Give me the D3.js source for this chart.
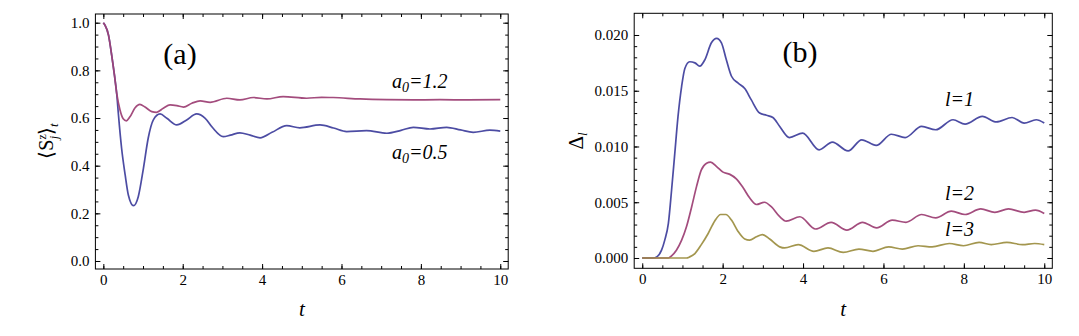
<!DOCTYPE html>
<html>
<head>
<meta charset="utf-8">
<script src="https://cdn.jsdelivr.net/npm/d3@7"></script>
<style>
  html, body { margin: 0; padding: 0; background: #fff; }
  svg { display: block; font-family: "Liberation Serif", "Times New Roman", serif; }
  svg text { font-family: "Liberation Serif", "Times New Roman", serif; }
  .domain { display: none; }
</style>
</head>
<body>
<svg id="chart" width="1079" height="336"></svg>
<script>
/* two Mathematica-style panels: (a) <S_j^z>_t and (b) Delta_l */
var tTicks = [0, 2, 4, 6, 8, 10];
var aTicks = [0, 0.2, 0.4, 0.6, 0.8, 1.0];
var bTicks = [0, 0.005, 0.01, 0.015, 0.02];

// panel (a), a0 = 0.5
var seriesA05 = [[0,1],[0.04,0.99],[0.13,0.948],[0.21,0.864],[0.28,0.78],[0.34,0.697],[0.38,0.615],
  [0.46,0.473],[0.55,0.361],[0.63,0.277],[0.76,0.232],[0.88,0.27],[1.01,0.389],[1.13,0.515],
  [1.26,0.592],[1.43,0.617],[1.6,0.599],[1.85,0.571],[2.1,0.592],[2.35,0.617],[2.56,0.6],
  [2.75,0.56],[3.02,0.522],[3.2,0.528],[3.44,0.538],[3.7,0.528],[3.95,0.517],[4.25,0.54],
  [4.62,0.568],[4.95,0.559],[5.46,0.571],[5.8,0.558],[6.13,0.543],[6.63,0.547],[7.14,0.536],
  [7.5,0.548],[7.81,0.561],[8.23,0.554],[8.65,0.561],[9.0,0.55],[9.32,0.54],[9.74,0.549],[10,0.545]];
// panel (a), a0 = 1.2
var seriesA12 = [[0,1],[0.04,0.99],[0.13,0.948],[0.21,0.864],[0.28,0.78],[0.34,0.7],[0.42,0.634],
  [0.5,0.597],[0.58,0.588],[0.67,0.605],[0.8,0.643],[0.92,0.657],[1.05,0.646],[1.22,0.627],
  [1.34,0.624],[1.51,0.641],[1.68,0.655],[1.85,0.652],[2.02,0.646],[2.23,0.662],[2.44,0.672],
  [2.69,0.666],[3.11,0.683],[3.44,0.676],[3.78,0.686],[4.12,0.68],[4.53,0.69],[5.12,0.683],
  [5.5,0.687],[5.79,0.686],[6.47,0.68],[7.14,0.677],[7.81,0.676],[8.48,0.677],[9.2,0.676],[10,0.677]];

// panel (b), l = 1, 2, 3
var seriesL1 = [[0,0],[0.27,0],[0.36,0.0001],[0.48,0.0007],[0.56,0.0016],[0.65,0.0031],[0.73,0.0061],
  [0.81,0.0094],[0.89,0.0127],[0.98,0.0154],[1.06,0.017],[1.18,0.0176],[1.31,0.0175],[1.43,0.0172],
  [1.56,0.0178],[1.72,0.0193],[1.85,0.0197],[1.97,0.0193],[2.09,0.0178],[2.22,0.0163],[2.38,0.0157],
  [2.55,0.0152],[2.71,0.0142],[2.92,0.013],[3.09,0.0128],[3.25,0.0126],[3.42,0.0118],[3.66,0.0108],
  [3.99,0.0112],[4.4,0.0097],[4.73,0.0104],[5.12,0.0096],[5.46,0.0106],[5.82,0.0101],[6.2,0.0111],
  [6.54,0.0108],[6.95,0.0118],[7.3,0.0115],[7.73,0.0124],[8.03,0.012],[8.46,0.0127],[8.81,0.0122],
  [9.2,0.0126],[9.5,0.0121],[9.8,0.0124],[10,0.0121]];
var seriesL2 = [[0,0],[0.65,0],[0.73,0.0002],[0.85,0.0007],[0.98,0.0016],[1.1,0.0028],[1.23,0.0046],
  [1.35,0.0064],[1.47,0.0079],[1.6,0.0085],[1.7,0.0086],[1.85,0.0082],[2.01,0.0077],[2.18,0.0075],
  [2.34,0.0071],[2.51,0.0063],[2.67,0.0054],[2.84,0.0048],[3.04,0.005],[3.21,0.0046],[3.42,0.0037],
  [3.58,0.0033],[3.92,0.0037],[4.31,0.0026],[4.7,0.0032],[5.09,0.0025],[5.48,0.0032],[5.83,0.0027],
  [6.22,0.0034],[6.56,0.0032],[6.95,0.0039],[7.3,0.0036],[7.69,0.0042],[8.03,0.0039],[8.42,0.0044],
  [8.77,0.0041],[9.11,0.0044],[9.5,0.0041],[9.78,0.0043],[10,0.004]];
var seriesL3 = [[0,0],[1.1,0],[1.18,0.0001],[1.31,0.0004],[1.47,0.0012],[1.64,0.0022],[1.8,0.0033],
  [1.95,0.0039],[2.08,0.0039],[2.22,0.0034],[2.38,0.0024],[2.55,0.0017],[2.67,0.0016],[2.84,0.0019],
  [2.99,0.0021],[3.17,0.0017],[3.42,0.001],[3.54,0.0009],[3.88,0.0012],[4.27,0.0006],[4.62,0.0009],
  [5.0,0.0005],[5.39,0.0008],[5.74,0.0006],[6.13,0.001],[6.47,0.0008],[6.86,0.0011],[7.21,0.001],
  [7.64,0.0013],[7.99,0.0011],[8.38,0.0014],[8.68,0.0012],[9.07,0.0014],[9.46,0.0012],[9.76,0.0013],[10,0.0012]];

var BLUE = "#42429e", MAGENTA = "#9e4276", GOLD = "#9e9044";
var SERIF = '"Liberation Serif", "Times New Roman", serif';

var svg = d3.select("#chart");

function drawPanel(p) {
  var x = d3.scaleLinear().domain([-0.2, 10.2]).range(p.xr);
  var y = d3.scaleLinear().domain(p.yd).range(p.yr);
  var g = svg.append("g");

  var minorX = d3.range(0, 10.01, 0.5);
  var minorY = d3.range(0, p.yTicks[p.yTicks.length - 1] + p.minorStep / 2, p.minorStep);

  // minor ticks (no labels)
  g.append("g").attr("transform", "translate(0," + p.yr[0] + ")")
    .call(d3.axisBottom(x).tickValues(minorX).tickSize(-3).tickFormat(""));
  g.append("g").attr("transform", "translate(0," + p.yr[1] + ")")
    .call(d3.axisTop(x).tickValues(minorX).tickSize(-3).tickFormat(""));
  g.append("g").attr("transform", "translate(" + p.xr[0] + ",0)")
    .call(d3.axisLeft(y).tickValues(minorY).tickSize(-3).tickFormat(""));
  g.append("g").attr("transform", "translate(" + p.xr[1] + ",0)")
    .call(d3.axisRight(y).tickValues(minorY).tickSize(-3).tickFormat(""));

  // major ticks
  g.append("g").attr("transform", "translate(0," + p.yr[0] + ")")
    .call(d3.axisBottom(x).tickValues(tTicks).tickSize(-5).tickPadding(5.5).tickFormat(d3.format("d")));
  g.append("g").attr("transform", "translate(0," + p.yr[1] + ")")
    .call(d3.axisTop(x).tickValues(tTicks).tickSize(-5).tickFormat(""));
  g.append("g").attr("transform", "translate(" + p.xr[0] + ",0)")
    .call(d3.axisLeft(y).tickValues(p.yTicks).tickSize(-5).tickPadding(6).tickFormat(d3.format(p.fmt)));
  g.append("g").attr("transform", "translate(" + p.xr[1] + ",0)")
    .call(d3.axisRight(y).tickValues(p.yTicks).tickSize(-5).tickFormat(""));

  g.selectAll("g").attr("font-family", SERIF).attr("font-size", 15);
  g.selectAll(".tick text").style("font-family", SERIF).style("font-size", "15px").attr("fill", "#000");
  g.selectAll(".tick line").attr("stroke", "#000").attr("stroke-width", 1);

  // frame
  g.append("rect")
    .attr("x", p.xr[0]).attr("y", p.yr[1])
    .attr("width", p.xr[1] - p.xr[0]).attr("height", p.yr[0] - p.yr[1])
    .attr("fill", "none").attr("stroke", "#000").attr("stroke-width", 1);

  var line = d3.line()
    .x(function (d) { return x(d[0]); })
    .y(function (d) { return y(d[1]); })
    .curve(d3.curveMonotoneX);

  p.series.forEach(function (s) {
    g.append("path")
      .attr("d", line(s.data))
      .attr("fill", "none")
      .attr("stroke", s.color)
      .attr("stroke-width", 1.7)
      .attr("stroke-opacity", 0.95)
      .attr("stroke-linejoin", "round");
  });

  // x axis label
  g.append("text")
    .attr("x", x(5)).attr("y", 316)
    .attr("text-anchor", "middle")
    .style("font-size", "21px").style("font-style", "italic")
    .text("t");

  return { x: x, y: y, g: g };
}

var pa = drawPanel({
  xr: [95.4, 508.2], yr: [269, 14], yd: [-0.0336, 1.0365],
  yTicks: aTicks, minorStep: 0.05, fmt: ".1f",
  series: [{ data: seriesA05, color: BLUE }, { data: seriesA12, color: MAGENTA }]
});

var pb = drawPanel({
  xr: [634.2, 1052.3], yr: [268.3, 13.3], yd: [-0.000924, 0.021946],
  yTicks: bTicks, minorStep: 0.001, fmt: ".3f",
  series: [{ data: seriesL1, color: BLUE }, { data: seriesL2, color: MAGENTA }, { data: seriesL3, color: GOLD }]
});

// panel tags
svg.append("text").attr("x", 180).attr("y", 64).attr("text-anchor", "middle")
  .style("font-size", "30px").text("(a)");
svg.append("text").attr("x", 800).attr("y", 62).attr("text-anchor", "middle")
  .style("font-size", "30px").text("(b)");

// curve labels, panel (a)
function a0Label(x0, y0, val) {
  var t = svg.append("text").attr("x", x0).attr("y", y0)
    .style("font-size", "20px").style("font-style", "italic");
  t.append("tspan").text("a");
  t.append("tspan").attr("dy", 4).style("font-size", "14px").text("0");
  t.append("tspan").attr("dy", -4).text("=" + val);
}
a0Label(392, 88, "1.2");
a0Label(392, 159, "0.5");

// curve labels, panel (b)
function lLabel(x0, y0, val) {
  svg.append("text").attr("x", x0).attr("y", y0)
    .style("font-size", "20px").style("font-style", "italic")
    .text("l=" + val);
}
lLabel(945, 106, "1");
lLabel(945, 200, "2");
lLabel(945, 236, "3");

// y axis label (a): <S_j^z>_t
var ya = svg.append("text")
  .attr("transform", "translate(53,141) rotate(-90)")
  .attr("text-anchor", "middle")
  .style("font-size", "20px");
ya.append("tspan").text("\u27E8S");
ya.append("tspan").attr("dy", -7).style("font-size", "12px").text("z");
ya.append("tspan").attr("dx", -5).attr("dy", 12).style("font-size", "12px").style("font-style", "italic").text("j");
ya.append("tspan").attr("dy", -5).attr("dx", 1).text("\u27E9");
ya.append("tspan").attr("dy", 5).style("font-size", "13px").style("font-style", "italic").text("t");

// y axis label (b): Delta_l
var yb = svg.append("text")
  .attr("transform", "translate(583,141) rotate(-90)")
  .attr("text-anchor", "middle")
  .style("font-size", "21px");
yb.append("tspan").text("\u0394");
yb.append("tspan").attr("dy", 4).style("font-size", "13px").style("font-style", "italic").text("l");
</script>
</body>
</html>
